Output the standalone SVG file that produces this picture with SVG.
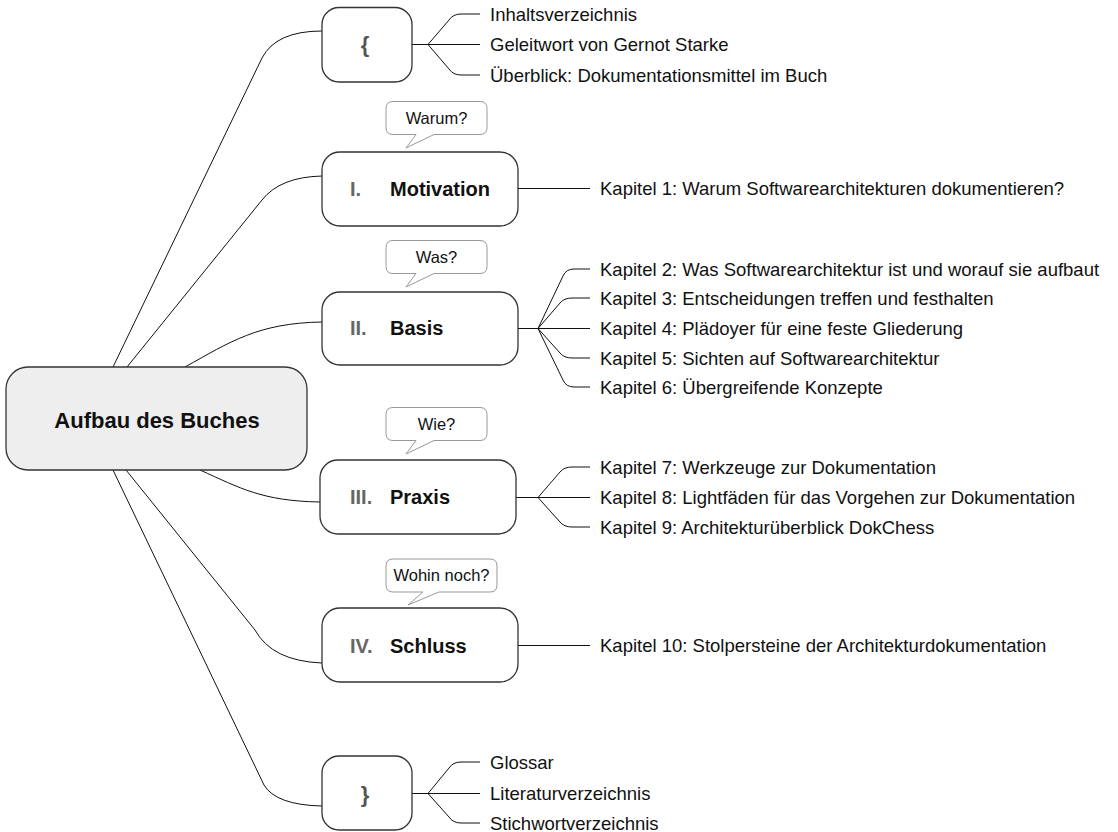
<svg xmlns="http://www.w3.org/2000/svg" width="1118" height="832" viewBox="0 0 1118 832">
<style>
.box{fill:#fff;stroke:#333;stroke-width:1.3}
.root{fill:#eeeeee;stroke:#333;stroke-width:1.3}
.bubble{fill:#fff;stroke:#999;stroke-width:1}
.con{fill:none;stroke:#111;stroke-width:1}
.t{font-family:"Liberation Sans",Arial,sans-serif;font-size:18.5px;fill:#111}
.bt{font-family:"Liberation Sans",Arial,sans-serif;font-size:16.5px;fill:#111;text-anchor:middle}
.lbl{font-family:"Liberation Sans",Arial,sans-serif;font-size:20px;font-weight:bold;fill:#111}
.num{font-family:"Liberation Sans",Arial,sans-serif;font-size:20px;font-weight:bold;fill:#666}
.brace{font-family:"Liberation Sans",Arial,sans-serif;font-size:22px;font-weight:bold;fill:#555;text-anchor:middle}
.rt{font-family:"Liberation Sans",Arial,sans-serif;font-size:22px;font-weight:bold;fill:#111;text-anchor:middle}
</style>
<rect width="1118" height="832" fill="#fff"/>
<g id="connectors">
<path class="con" d="M113,367 L262,58 Q276,31 322,31"/>
<path class="con" d="M127,367 L262,200 Q280,177 322,176"/>
<path class="con" d="M185,367 C230,342 258,323 322,322"/>
<path class="con" d="M200,470 C240,488 262,501 320,502"/>
<path class="con" d="M126,470 L255,630 Q272,661 322,663"/>
<path class="con" d="M113,470 L264,785 Q276,805 322,806"/>
<path class="con" d="M412,44.5 H480 M428,44.5 L449,20 Q453,14 461,14 H480 M428,44.5 L449,69 Q453,75 461,75 H480"/>
<path class="con" d="M518,188.5 H590"/>
<path class="con" d="M518,328.5 H590 M538,328.5 L563,276 Q566,269 574,269 H590 M538,328.5 L560,303 Q564,298 572,298 H590 M538,328.5 L560,353 Q564,358 572,358 H590 M538,328.5 L563,380 Q566,387 574,387 H590"/>
<path class="con" d="M516,497.5 H590 M538,497.5 L560,472 Q564,467 572,467 H590 M538,497.5 L560,522 Q564,527 572,527 H590"/>
<path class="con" d="M518,645.5 H590"/>
<path class="con" d="M412,793.5 H480 M428,793.5 L449,768 Q453,762 461,762 H480 M428,793.5 L449,817 Q453,823 461,823 H480"/>
</g>
<g id="root">
<rect class="root" x="6" y="367" width="301" height="103" rx="22"/>
<text class="rt" x="157" y="428">Aufbau des Buches</text>
</g>
<g id="front">
<rect class="box" x="322" y="7.5" width="90" height="74.5" rx="17"/>
<text class="brace" x="365" y="52">{</text>
<text class="t" x="490" y="20.5">Inhaltsverzeichnis</text>
<text class="t" x="490" y="51">Geleitwort von Gernot Starke</text>
<text class="t" x="490" y="81.5">Überblick: Dokumentationsmittel im Buch</text>
</g>
<g id="motivation">
<path class="bubble" d="M393,101.5 H480 Q487,101.5 487,108.5 V127.5 Q487,134.5 480,134.5 H434 L406,148 L416,134.5 H393 Q386,134.5 386,127.5 V108.5 Q386,101.5 393,101.5 Z"/>
<text class="bt" x="436.5" y="124">Warum?</text>
<rect class="box" x="322" y="152" width="196" height="74" rx="18"/>
<text class="num" x="350" y="196">I.</text>
<text class="lbl" x="390" y="196">Motivation</text>
<text class="t" x="600" y="195">Kapitel 1: Warum Softwarearchitekturen dokumentieren?</text>
</g>
<g id="basis">
<path class="bubble" d="M393,240.5 H480 Q487,240.5 487,247.5 V266.5 Q487,273.5 480,273.5 H434 L406,287 L416,273.5 H393 Q386,273.5 386,266.5 V247.5 Q386,240.5 393,240.5 Z"/>
<text class="bt" x="436.5" y="263">Was?</text>
<rect class="box" x="322" y="292" width="196" height="73" rx="18"/>
<text class="num" x="350" y="335">II.</text>
<text class="lbl" x="390" y="335">Basis</text>
<text class="t" x="600" y="275.5">Kapitel 2: Was Softwarearchitektur ist und worauf sie aufbaut</text>
<text class="t" x="600" y="304.5">Kapitel 3: Entscheidungen treffen und festhalten</text>
<text class="t" x="600" y="335">Kapitel 4: Plädoyer für eine feste Gliederung</text>
<text class="t" x="600" y="364.5">Kapitel 5: Sichten auf Softwarearchitektur</text>
<text class="t" x="600" y="393.5">Kapitel 6: Übergreifende Konzepte</text>
</g>
<g id="praxis">
<path class="bubble" d="M393,407.5 H480 Q487,407.5 487,414.5 V433.5 Q487,440.5 480,440.5 H434 L406,454 L416,440.5 H393 Q386,440.5 386,433.5 V414.5 Q386,407.5 393,407.5 Z"/>
<text class="bt" x="436.5" y="430">Wie?</text>
<rect class="box" x="320" y="460" width="196" height="74" rx="18"/>
<text class="num" x="350" y="504">III.</text>
<text class="lbl" x="390" y="504">Praxis</text>
<text class="t" x="600" y="473.5">Kapitel 7: Werkzeuge zur Dokumentation</text>
<text class="t" x="600" y="504">Kapitel 8: Lightfäden für das Vorgehen zur Dokumentation</text>
<text class="t" x="600" y="533.5">Kapitel 9: Architekturüberblick DokChess</text>
</g>
<g id="schluss">
<path class="bubble" d="M393,559 H490 Q497,559 497,566 V585 Q497,592 490,592 H439 L408,605 L423,592 H393 Q386,592 386,585 V566 Q386,559 393,559 Z"/>
<text class="bt" x="441.5" y="581">Wohin noch?</text>
<rect class="box" x="322" y="608" width="196" height="74" rx="18"/>
<text class="num" x="350" y="653">IV.</text>
<text class="lbl" x="390" y="653">Schluss</text>
<text class="t" x="600" y="652">Kapitel 10: Stolpersteine der Architekturdokumentation</text>
</g>
<g id="back">
<rect class="box" x="322" y="756" width="90" height="74" rx="17"/>
<text class="brace" x="365" y="802">}</text>
<text class="t" x="490" y="768.5">Glossar</text>
<text class="t" x="490" y="799.5">Literaturverzeichnis</text>
<text class="t" x="490" y="829.5">Stichwortverzeichnis</text>
</g>
</svg>
